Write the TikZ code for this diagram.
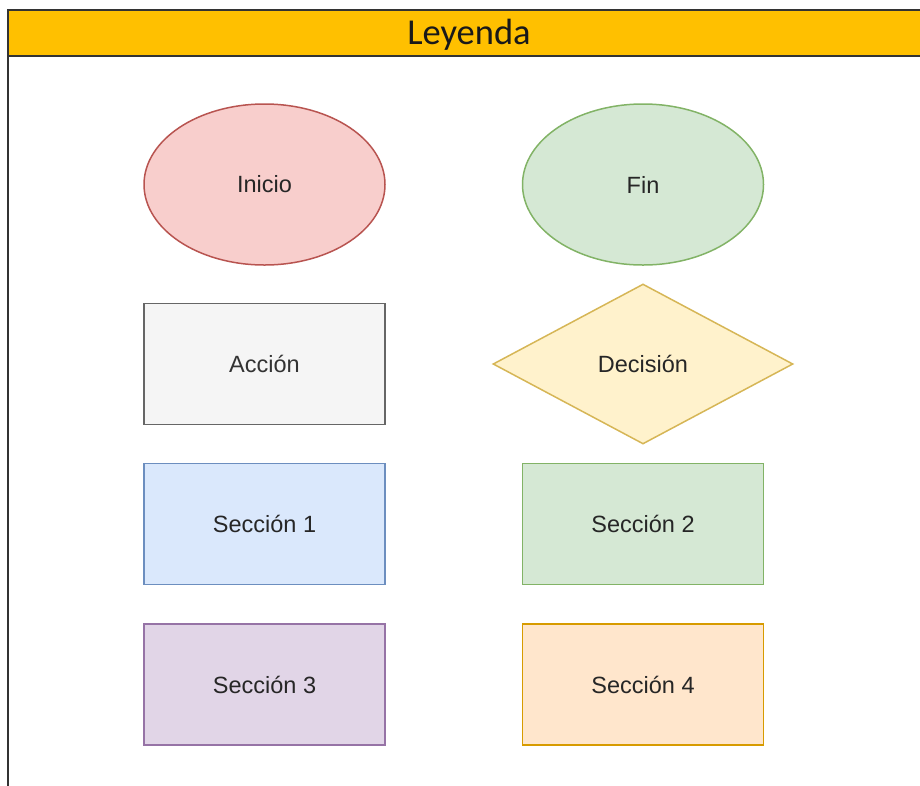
\documentclass[tikz,border=0pt]{standalone}
\usepackage{fontspec}
\setmainfont{Liberation Sans}
\newfontfamily\titlefont{Carlito}
\usetikzlibrary{shapes.geometric}

\definecolor{hdrfill}{HTML}{FFC000}
\definecolor{hdrline}{HTML}{333333}
\definecolor{redfill}{HTML}{F8CECC}\definecolor{redline}{HTML}{B85450}
\definecolor{grnfill}{HTML}{D5E8D4}\definecolor{grnline}{HTML}{82B366}
\definecolor{gryfill}{HTML}{F5F5F5}\definecolor{gryline}{HTML}{666666}
\definecolor{grytext}{HTML}{333333}
\definecolor{ylwfill}{HTML}{FFF2CC}\definecolor{ylwline}{HTML}{D6B656}
\definecolor{blufill}{HTML}{DAE8FC}\definecolor{bluline}{HTML}{6C8EBF}
\definecolor{prpfill}{HTML}{E1D5E7}\definecolor{prpline}{HTML}{9673A6}
\definecolor{orgfill}{HTML}{FFE6CC}\definecolor{orgline}{HTML}{D79B00}

\tikzset{
  shapebase/.style={line width=1.5pt, inner sep=0pt, font=\fontsize{23.5}{27}\selectfont, text=black!85},
  oval/.style={shapebase, ellipse, minimum width=241pt, minimum height=161pt},
  box/.style={shapebase, rectangle, minimum width=241pt, minimum height=121pt},
  rhomb/.style={shapebase, diamond, aspect=1.875, minimum width=300pt, minimum height=160pt},
}

\begin{document}
\begin{tikzpicture}[x=1pt, y=-1pt]
  \useasboundingbox (0,0) rectangle (920,785);
  \clip (0,0) rectangle (920,785);

  % legend container: title bar and left frame edge
  \draw[hdrline, line width=2pt] (8,56) -- (8,800);
  \draw[hdrline, line width=2pt, fill=hdrfill] (8,10) rectangle (940,56);
  \node[font=\titlefont\fontsize{36.5}{40}\selectfont, text=black!90] (title) at (469,35) {Leyenda};

  % legend entries
  \node[oval, draw=redline, fill=redfill] (inicio) at (264.5,184.5) {Inicio};
  \node[oval, draw=grnline, fill=grnfill] (fin) at (643,184.5) {Fin};

  \node[box, draw=gryline, fill=gryfill, text=grytext] (accion) at (264.5,364) {Acción};
  \node[rhomb, draw=ylwline, fill=ylwfill] (decision) at (643,364) {Decisión};

  \node[box, draw=bluline, fill=blufill] (sec1) at (264.5,524) {Sección 1};
  \node[box, draw=grnline, fill=grnfill] (sec2) at (643,524) {Sección 2};

  \node[box, draw=prpline, fill=prpfill] (sec3) at (264.5,684.5) {Sección 3};
  \node[box, draw=orgline, fill=orgfill] (sec4) at (643,684.5) {Sección 4};
\end{tikzpicture}
\end{document}
